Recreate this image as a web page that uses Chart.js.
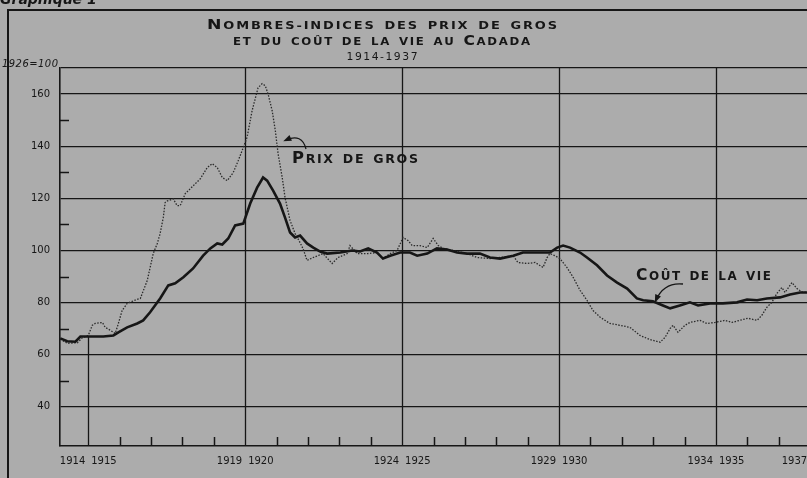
<!DOCTYPE html>
<html lang="fr">
<head>
<meta charset="UTF-8">
<title>Nombres-indices des prix de gros et du coût de la vie au Cadada</title>
<script src="https://cdn.jsdelivr.net/npm/chart.js"></script>
<style>
  body { margin: 0; background: #acacac; overflow: hidden; }
  canvas { display: block; }
</style>
</head>
<body>
<canvas id="grafico" width="807" height="478"></canvas>
<script>
// prix de gros (ligne pointillée), année décimale -> indice
const anneesGros = [1914.11, 1914.33, 1914.65, 1914.81, 1915.00, 1915.13, 1915.22, 1915.45, 1915.54, 1915.70,
  1915.86, 1915.96, 1916.08, 1916.24, 1916.50, 1916.66, 1916.88, 1917.07, 1917.20, 1917.29,
  1917.39, 1917.45, 1917.52, 1917.71, 1917.83, 1917.93, 1918.09, 1918.25, 1918.57, 1918.79,
  1918.95, 1919.11, 1919.27, 1919.43, 1919.62, 1919.78, 1919.94, 1920.06, 1920.22, 1920.41,
  1920.54, 1920.64, 1920.73, 1920.86, 1920.96, 1921.05, 1921.18, 1921.27, 1921.43, 1921.59,
  1921.75, 1921.85, 1921.97, 1922.17, 1922.48, 1922.77, 1922.96, 1923.25, 1923.34, 1923.57,
  1923.89, 1924.20, 1924.39, 1924.62, 1924.84, 1925.03, 1925.19, 1925.32, 1925.57, 1925.80,
  1925.99, 1926.15, 1926.31, 1926.62, 1927.07, 1927.39, 1927.80, 1928.12, 1928.54, 1928.69,
  1928.98, 1929.24, 1929.49, 1929.62, 1929.71, 1929.87, 1930.03, 1930.25, 1930.45, 1930.67,
  1930.89, 1931.08, 1931.31, 1931.62, 1931.94, 1932.26, 1932.58, 1932.90, 1933.22, 1933.38,
  1933.54, 1933.63, 1933.79, 1934.01, 1934.17, 1934.49, 1934.71, 1934.97, 1935.29, 1935.51,
  1935.76, 1936.02, 1936.31, 1936.46, 1936.62, 1936.78, 1936.94, 1937.10, 1937.20, 1937.42,
  1937.58, 1937.77, 1937.90];
const prixGros = [66.0, 64.4, 64.6, 66.5, 67.4, 71.3, 72.0, 72.4, 70.5, 69.4,
  68.2, 72.0, 77.0, 79.7, 81.0, 81.6, 88.5, 98.8, 102.7, 106.5,
  112.6, 118.4, 119.0, 119.8, 117.2, 117.2, 121.8, 123.7, 127.5, 131.8,
  133.3, 131.8, 128.0, 126.8, 129.9, 134.5, 139.5, 143.4, 153.6, 162.4,
  164.0, 163.2, 160.0, 153.6, 146.0, 137.0, 128.0, 120.3, 111.5, 106.5,
  103.0, 100.5, 96.2, 97.3, 98.8, 95.0, 97.3, 98.8, 101.9, 98.8,
  98.8, 99.2, 96.9, 98.8, 100.0, 105.0, 103.8, 101.9, 101.9, 101.1,
  104.6, 101.9, 100.8, 100.0, 98.8, 97.3, 96.9, 97.3, 98.0, 95.4,
  95.0, 95.4, 93.5, 97.3, 98.8, 98.0, 96.9, 93.5, 89.7, 84.7,
  80.9, 77.0, 74.4, 72.0, 71.3, 70.5, 67.4, 65.8, 64.8, 66.7,
  70.1, 71.3, 68.6, 71.3, 72.4, 73.2, 72.0, 72.4, 73.2, 72.4,
  73.2, 74.0, 73.2, 75.1, 78.2, 80.1, 83.5, 85.8, 83.9, 87.7,
  85.4, 83.9, 84.0];

// coût de la vie (trait plein)
const anneesVie = [1914.11, 1914.33, 1914.59, 1914.75, 1915.06, 1915.48, 1915.80, 1915.96, 1916.24, 1916.56,
  1916.75, 1916.97, 1917.29, 1917.55, 1917.77, 1918.03, 1918.34, 1918.66, 1918.89, 1919.11,
  1919.27, 1919.46, 1919.68, 1919.94, 1920.16, 1920.38, 1920.57, 1920.70, 1920.89, 1921.11,
  1921.27, 1921.43, 1921.59, 1921.75, 1921.97, 1922.17, 1922.39, 1922.61, 1923.03, 1923.41,
  1923.66, 1923.92, 1924.20, 1924.39, 1924.62, 1924.94, 1925.25, 1925.48, 1925.80, 1926.11,
  1926.43, 1926.75, 1927.07, 1927.48, 1927.80, 1928.12, 1928.54, 1928.85, 1929.30, 1929.71,
  1929.94, 1930.13, 1930.35, 1930.67, 1930.89, 1931.21, 1931.53, 1931.85, 1932.17, 1932.48,
  1932.68, 1932.99, 1933.31, 1933.54, 1933.85, 1934.17, 1934.43, 1934.81, 1935.22, 1935.67,
  1935.99, 1936.31, 1936.62, 1937.04, 1937.36, 1937.68, 1937.90];
const coutVie = [66.3, 65.2, 65.0, 67.0, 67.0, 67.0, 67.4, 68.6, 70.5, 72.0,
  73.2, 76.3, 81.6, 86.6, 87.4, 89.7, 93.1, 98.0, 100.8, 102.7,
  102.3, 104.6, 109.6, 110.3, 118.0, 124.1, 128.0, 126.8, 123.0, 118.0,
  112.6, 106.9, 105.0, 105.7, 102.7, 101.1, 99.6, 98.8, 99.2, 100.0,
  99.6, 100.8, 99.2, 96.9, 98.0, 99.2, 99.2, 98.0, 98.8, 100.8,
  100.4, 99.2, 98.8, 98.8, 97.3, 96.9, 98.0, 99.2, 99.2, 99.2,
  101.1, 101.9, 101.1, 99.2, 97.3, 94.3, 90.4, 87.7, 85.4, 81.6,
  80.9, 80.5, 78.9, 77.8, 78.9, 80.1, 78.9, 79.7, 79.7, 80.1,
  81.2, 80.9, 81.6, 82.0, 83.1, 83.9, 83.9];

const etiquettesY = [40, 60, 80, 100, 120, 140, 160];
const petitsTraitsY = [50, 70, 90, 110, 130, 150];
const etiquettesAnnees = [1914, 1915, 1919, 1920, 1924, 1925, 1929, 1930, 1934, 1935, 1937];
const grandesAnnees = [1920, 1925, 1930, 1935];
const petitesAnnees = [1916, 1917, 1918, 1919, 1921, 1922, 1923, 1924, 1926, 1927, 1928, 1929,
  1931, 1932, 1933, 1934, 1936, 1937];

const ENCRE = '#161616';
const PAPIER = '#acacac';
const POLICE = '"DejaVu Sans", sans-serif';

// texte en petites capitales, étiré horizontalement sur une largeur donnée
function petitesCaps(ctx, texte, cx, base, grand, petit, largeur, poids, style, ecart) {
  ecart = ecart === undefined ? 1.5 : ecart;
  const morceaux = [...texte].map(c => {
    const haut = c !== c.toLowerCase() || /[0-9]/.test(c);
    return { ch: c.toUpperCase(), taille: haut ? grand : petit };
  });
  morceaux.forEach(m => {
    ctx.font = `${style || ''} ${poids} ${m.taille}px ${POLICE}`;
    m.w = ctx.measureText(m.ch).width + (m.ch === ' ' ? 2 : 0);
  });
  const naturel = morceaux.reduce((s, m) => s + m.w, 0) + ecart * (morceaux.length - 1);
  const sx = largeur / naturel;
  ctx.save();
  ctx.translate(cx - largeur / 2, base);
  ctx.scale(sx, 1);
  ctx.textAlign = 'left';
  ctx.textBaseline = 'alphabetic';
  ctx.fillStyle = ENCRE;
  let x = 0;
  morceaux.forEach(m => {
    ctx.font = `${style || ''} ${poids} ${m.taille}px ${POLICE}`;
    ctx.fillText(m.ch, x, 0);
    x += m.w + ecart;
  });
  ctx.restore();
}

function fleche(ctx, x0, y0, cx, cy, x1, y1) {
  ctx.beginPath();
  ctx.moveTo(x0, y0);
  ctx.quadraticCurveTo(cx, cy, x1, y1);
  ctx.stroke();
  const a = Math.atan2(y1 - cy, x1 - cx);
  ctx.beginPath();
  ctx.moveTo(x1 + Math.cos(a) * 3, y1 + Math.sin(a) * 3);
  ctx.lineTo(x1 + Math.cos(a + 2.6) * 6, y1 + Math.sin(a + 2.6) * 6);
  ctx.lineTo(x1 + Math.cos(a - 2.6) * 6, y1 + Math.sin(a - 2.6) * 6);
  ctx.closePath();
  ctx.fill();
}

const decor = {
  id: 'decor',
  beforeDraw(chart) {
    const ctx = chart.ctx;
    ctx.save();
    ctx.fillStyle = PAPIER;
    ctx.fillRect(0, 0, chart.width, chart.height);
    ctx.restore();
  },
  beforeDatasetsDraw(chart) {
    const { ctx, chartArea: a, scales: { x, y } } = chart;
    ctx.save();
    ctx.strokeStyle = ENCRE;
    ctx.lineWidth = 1.3;
    grandesAnnees.forEach(an => {
      const px = Math.round(x.getPixelForValue(an)) + 0.5;
      ctx.beginPath(); ctx.moveTo(px, a.top); ctx.lineTo(px, a.bottom); ctx.stroke();
    });
    // trait partiel de 1915
    const p15 = Math.round(x.getPixelForValue(1915)) + 0.5;
    ctx.beginPath(); ctx.moveTo(p15, y.getPixelForValue(67)); ctx.lineTo(p15, a.bottom); ctx.stroke();
    ctx.lineWidth = 1.5;
    petitesAnnees.forEach(an => {
      const px = Math.round(x.getPixelForValue(an)) + 0.5;
      ctx.beginPath(); ctx.moveTo(px, a.bottom); ctx.lineTo(px, a.bottom - 9); ctx.stroke();
    });
    petitsTraitsY.forEach(v => {
      const py = Math.round(y.getPixelForValue(v)) + 0.5;
      ctx.beginPath(); ctx.moveTo(a.left, py); ctx.lineTo(a.left + 9, py); ctx.stroke();
    });
    ctx.restore();
  },
  afterDraw(chart) {
    const ctx = chart.ctx;
    ctx.save();
    // cadre de la page
    ctx.strokeStyle = ENCRE;
    ctx.lineWidth = 2;
    ctx.beginPath(); ctx.moveTo(8, 478); ctx.lineTo(8, 10); ctx.lineTo(807, 10); ctx.stroke();
    ctx.fillStyle = ENCRE;
    ctx.font = `italic bold 14px ${POLICE}`;
    ctx.fillText('Graphique 1', 0, 4);

    petitesCaps(ctx, 'Nombres-indices des prix de gros', 382, 29, 14, 10.5, 350, 'bold', '', 1.5);
    petitesCaps(ctx, 'et du coût de la vie au Cadada', 381.5, 45, 14, 10.5, 297, 'bold', '', 1.5);
    petitesCaps(ctx, '1914-1937', 382, 60, 10.5, 10.5, 71, 'normal', '', 1.5);
    petitesCaps(ctx, '1926=100', 30, 67, 10.5, 10.5, 56, 'normal', 'italic', 0.5);

    petitesCaps(ctx, 'Prix de gros', 355, 163, 15, 11.5, 126, 'bold', '', 1.5);
    petitesCaps(ctx, 'Coût de la vie', 703.5, 280, 15, 11.5, 135, 'bold', '', 1.5);

    ctx.lineWidth = 1.3;
    fleche(ctx, 306, 149, 302, 133, 286, 140);
    fleche(ctx, 683, 284, 664, 282, 656, 300);
    ctx.restore();
  }
};

const ctx = document.getElementById('grafico');

new Chart(ctx, {
  type: 'line',
  data: {
    datasets: [
      {
        label: 'Coût de la vie',
        data: anneesVie.map((an, i) => ({ x: an, y: coutVie[i] })),
        borderColor: ENCRE,
        borderWidth: 2.6,
        pointRadius: 0,
        tension: 0
      },
      {
        label: 'Prix de gros',
        data: anneesGros.map((an, i) => ({ x: an, y: prixGros[i] })),
        borderColor: '#2b2b2b',
        borderWidth: 1.3,
        borderDash: [1.5, 1.5],
        pointRadius: 0,
        tension: 0
      }
    ]
  },
  options: {
    responsive: false,
    animation: false,
    layout: { padding: { top: 68, right: 0, left: 0, bottom: 0 } },
    plugins: { legend: { display: false }, tooltip: { enabled: false }, title: { display: false } },
    scales: {
      x: {
        type: 'linear',
        min: 1914.1,
        max: 1937.9,
        afterBuildTicks: scale => { scale.ticks = etiquettesAnnees.map(an => ({ value: an + 0.5 })); },
        afterFit: scale => { scale.height = 32; scale.paddingLeft = 0; scale.paddingRight = 0; },
        grid: { display: false },
        border: { display: true, color: ENCRE, width: 1.6 },
        ticks: {
          autoSkip: false,
          maxRotation: 0,
          padding: 1.5,
          color: ENCRE,
          font: { family: 'DejaVu Sans', size: 10 },
          callback: v => String(Math.round(v - 0.5))
        }
      },
      y: {
        min: 25,
        max: 170,
        afterBuildTicks: scale => { scale.ticks = etiquettesY.concat([170]).map(v => ({ value: v })); },
        afterFit: scale => { scale.width = 60; scale.paddingTop = 0; scale.paddingBottom = 0; },
        grid: { color: ENCRE, lineWidth: 1.3, drawTicks: false },
        border: { display: true, color: ENCRE, width: 1.6 },
        ticks: {
          padding: 10,
          color: ENCRE,
          font: { family: 'DejaVu Sans', size: 10 },
          callback: v => (v === 170 ? '' : String(v))
        }
      }
    }
  },
  plugins: [decor]
});
</script>
</body>
</html>
